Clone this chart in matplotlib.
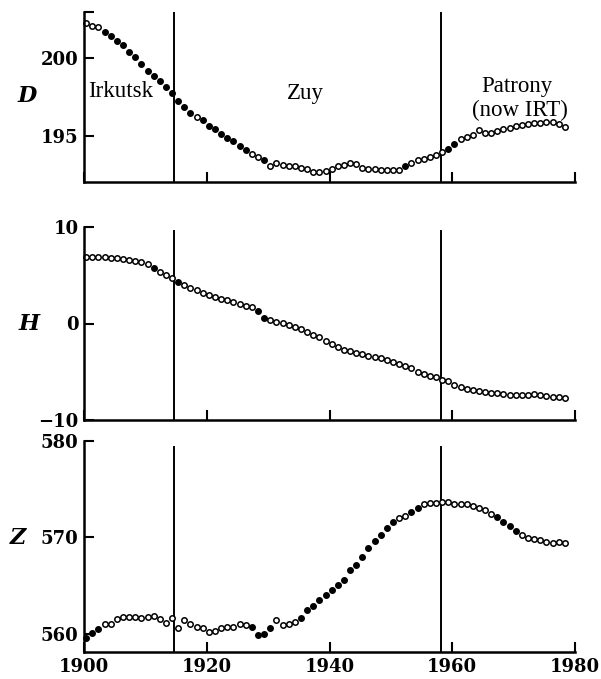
import matplotlib
matplotlib.use('Agg')
import matplotlib.pyplot as plt
import numpy as np

plt.rcParams['font.family'] = ['DejaVu Serif']

# annual means, 1900-1978
years = np.arange(1900, 1979)

# declination D
d_vals = [202.19, 202.04, 201.94, 201.62, 201.40, 201.06, 200.83, 200.38, 200.02, 199.57,
          199.17, 198.85, 198.53, 198.13, 197.74, 197.26, 196.85, 196.47, 196.21, 196.00,
          195.66, 195.43, 195.15, 194.91, 194.66, 194.38, 194.09, 193.85, 193.66, 193.45,
          193.11, 193.28, 193.19, 193.13, 193.11, 193.00, 192.91, 192.72, 192.72, 192.81,
          192.91, 193.13, 193.15, 193.26, 193.21, 192.98, 192.91, 192.89, 192.85, 192.83,
          192.83, 192.83, 193.09, 193.32, 193.51, 193.53, 193.66, 193.77, 193.96, 194.19,
          194.53, 194.79, 194.94, 195.09, 195.36, 195.21, 195.23, 195.34, 195.45, 195.53,
          195.66, 195.72, 195.77, 195.81, 195.85, 195.89, 195.91, 195.74, 195.60]

# horizontal component H
h_vals = [6.85, 6.92, 6.88, 6.85, 6.78, 6.75, 6.68, 6.58, 6.51, 6.37,
          6.16, 5.72, 5.31, 5.03, 4.73, 4.35, 3.94, 3.70, 3.42, 3.15,
          2.91, 2.74, 2.53, 2.40, 2.23, 1.99, 1.85, 1.71, 1.30, 0.62,
          0.34, 0.17, 0.07, -0.17, -0.34, -0.62, -0.86, -1.23, -1.44, -1.78,
          -2.12, -2.47, -2.74, -2.84, -3.01, -3.15, -3.32, -3.42, -3.60, -3.77,
          -4.01, -4.18, -4.38, -4.62, -5.00, -5.21, -5.41, -5.55, -5.89, -5.99,
          -6.34, -6.58, -6.78, -6.92, -7.02, -7.09, -7.16, -7.23, -7.29, -7.36,
          -7.40, -7.43, -7.36, -7.33, -7.43, -7.50, -7.57, -7.64, -7.71]

# vertical component Z
z_vals = [559.52, 560.07, 560.52, 561.03, 560.97, 561.48, 561.69, 561.69, 561.69, 561.66,
          561.72, 561.83, 561.48, 561.10, 561.59, 560.55, 561.45, 560.97, 560.72, 560.62,
          560.21, 560.24, 560.55, 560.69, 560.72, 561.03, 560.90, 560.72, 559.83, 559.93,
          560.62, 561.45, 560.90, 560.97, 561.24, 561.66, 562.48, 562.86, 563.45, 563.97,
          564.55, 565.10, 565.62, 566.66, 567.17, 567.93, 568.90, 569.66, 570.28, 570.97,
          571.55, 572.00, 572.17, 572.62, 573.03, 573.45, 573.59, 573.59, 573.66, 573.72,
          573.48, 573.45, 573.48, 573.28, 573.03, 572.79, 572.41, 572.14, 571.59, 571.21,
          570.62, 570.21, 569.93, 569.83, 569.72, 569.52, 569.45, 569.52, 569.38]

# observatory changes
moves = [1914.6, 1958.2]
stations = ['Irkutsk', 'Zuy', 'Patrony', '(now IRT)']

fig = plt.figure(figsize=(6.01, 6.79), dpi=100)

W, H = 601.0, 679.0
left, right = 84 / W, 575 / W
panels = [
    ('D', d_vals, (192.08, 202.9), [195, 200], (182, 12), (-0.116, 0.506), 1.0),
    ('H', h_vals, (-10, 10), [-10, 0, 10], (420, 227), (-0.112, 0.5), 0.98),
    ('Z', z_vals, (558.1, 580), [560, 570, 580], (652, 441), (-0.134, 0.54), 0.97),
]

axes = []
for name, vals, ylim, yticks, (pb, pt), labpos, vtop in panels:
    ax = fig.add_axes([left, 1 - pb / H, right - left, (pb - pt) / H])
    ax.set_xlim(1900, 1980)
    ax.set_ylim(*ylim)
    for s in ['top', 'right']:
        ax.spines[s].set_visible(False)
    for s in ['left', 'bottom']:
        ax.spines[s].set_linewidth(1.8)
    ax.set_xticks(np.arange(1900, 1981, 20))
    ax.set_yticks(yticks)
    ax.set_yticks([ylim[1]], minor=True)
    ax.tick_params(which='both', direction='in', width=1.5, length=7, pad=4,
                   labelsize=13)
    ax.tick_params(axis='x', which='minor', bottom=False)
    for lab in ax.get_yticklabels() + ax.get_xticklabels():
        lab.set_fontweight('bold')
    ax.set_ylabel(name, rotation=0, fontsize=16, fontstyle='italic',
                  fontweight='bold', va='center', ha='center')
    ax.yaxis.set_label_coords(*labpos)

    for m in moves:
        ax.axvline(m, ymin=0, ymax=vtop, color='black', lw=1.4)

    x = years + 0.35
    y = np.array(vals)
    # steep stretches print as solid dots in the original
    pts = ax.transData.transform(np.column_stack([x, y]))
    slope = np.abs(np.gradient(pts[:, 1]))
    solid = slope > 3.8
    ax.plot(x[~solid], y[~solid], 'o', ms=3.9, mfc='white', mec='black',
            mew=1.1, ls='none', clip_on=False)
    ax.plot(x[solid], y[solid], 'o', ms=3.9, mfc='black', mec='black',
            mew=1.1, ls='none', clip_on=False)
    axes.append(ax)

for ax in axes[:2]:
    ax.tick_params(axis='x', labelbottom=False)

axD = axes[0]
txt = dict(fontfamily='Liberation Serif', fontsize=16.5, va='baseline')
axD.text(1900.65, 197.47, stations[0], ha='left', **txt)
axD.text(1936.1, 197.34, stations[1], ha='center', **txt)
axD.text(1970.6, 197.83, stations[2], ha='center', **txt)
axD.text(1971.0, 196.28, stations[3], ha='center', **txt)

fig.savefig('out.png', dpi=100)
